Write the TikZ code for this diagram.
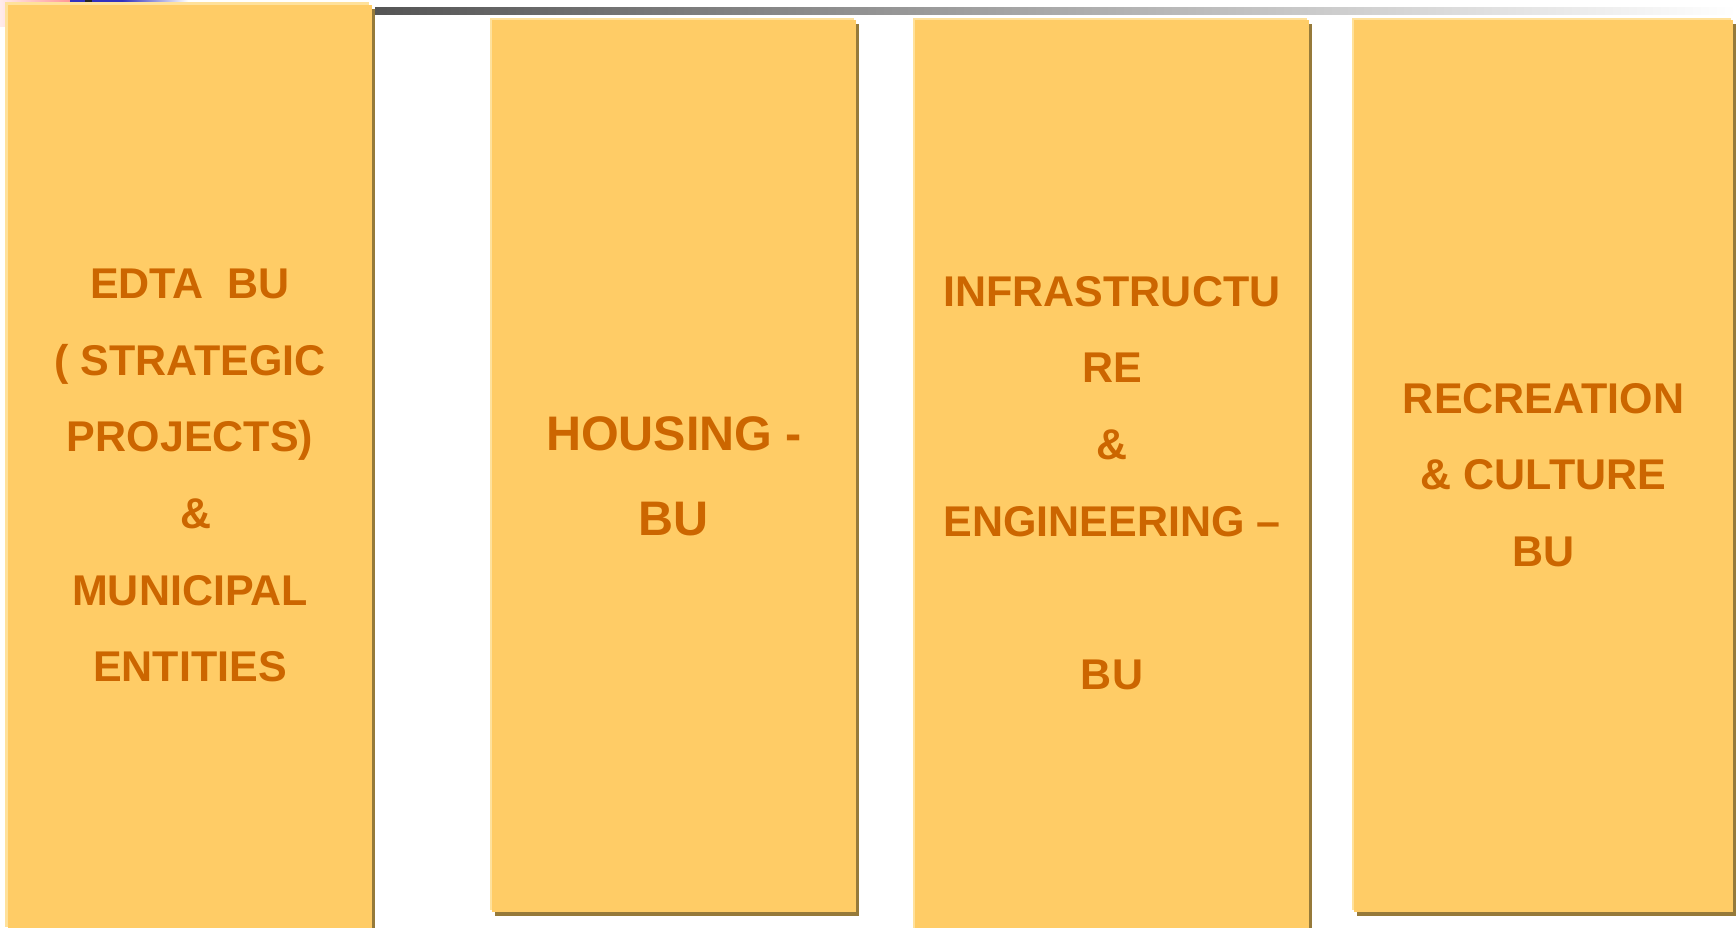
\documentclass[tikz,border=0pt]{standalone}
\usepackage{fontspec}
\setmainfont{Liberation Sans}
\definecolor{boxfill}{RGB}{255,204,102}
\definecolor{boxlight}{RGB}{255,225,155}
\definecolor{boxshadow}{RGB}{150,122,58}
\definecolor{labeltext}{RGB}{204,102,0}
\definecolor{barstart}{RGB}{85,85,85}
\definecolor{barmid}{RGB}{200,200,200}
\definecolor{pinkl}{RGB}{255,235,235}
\definecolor{pinkr}{RGB}{255,150,150}
\definecolor{hdrblue}{RGB}{50,50,190}
% x1 y1 x2 y2 highlight-offset
\newcommand\bubox[5]{%
  \fill[boxshadow] (#1+3,#2+3.5) rectangle (#3+3,#4+3.5);
  \fill[boxlight] (#1-#5,#2-#5) rectangle (#3-#5,#4-#5);
  \fill[boxfill] (#1,#2) rectangle (#3,#4);}
\begin{document}
\begin{tikzpicture}[x=1pt,y=-1pt,
  lbl/.style={text=labeltext, inner sep=0pt, anchor=base, font=\bfseries}]
\useasboundingbox (0,0) rectangle (1736,927);
\clip (0,0) rectangle (1736,927);
% header remnants
\shade[left color=pinkl, right color=pinkr] (0,0) rectangle (70,26);
\fill[hdrblue] (70,0) rectangle (122,2);
\shade[left color=hdrblue, right color=white] (122,0) rectangle (188,2);
\fill[black!85] (85,0) rectangle (92,2);
\shade[left color=barstart, middle color=barmid, right color=white] (375,7) rectangle (1736,14);
% boxes
\bubox{8}{5}{372}{930}{3}
\bubox{492}{20}{856}{912}{2}
\bubox{915}{20}{1309}{930}{2.5}
\bubox{1354}{20}{1733}{912}{2}
% labels
\node[lbl] (edta) at (190,298.3) {\parbox[t]{360pt}{\centering\fontsize{43}{76.7}\selectfont
  EDTA\ \ BU\\( STRATEGIC\\PROJECTS)\\\hspace*{12pt}\&\\MUNICIPAL\\ENTITIES}};
\node[lbl] (housing) at (674,450.7) {\parbox[t]{360pt}{\centering\fontsize{48.5}{85}\selectfont
  HOUSING -\\BU}};
\node[lbl] (infra) at (1112,306) {\parbox[t]{390pt}{\centering\fontsize{43}{76.7}\selectfont
  INFRASTRUCTU\\RE\\\&\\ENGINEERING –\\[76.7pt]BU}};
\node[lbl] (recreation) at (1543.5,413.3) {\parbox[t]{370pt}{\centering\fontsize{43}{76.5}\selectfont
  RECREATION\\\& CULTURE\\BU}};
\end{tikzpicture}
\end{document}
